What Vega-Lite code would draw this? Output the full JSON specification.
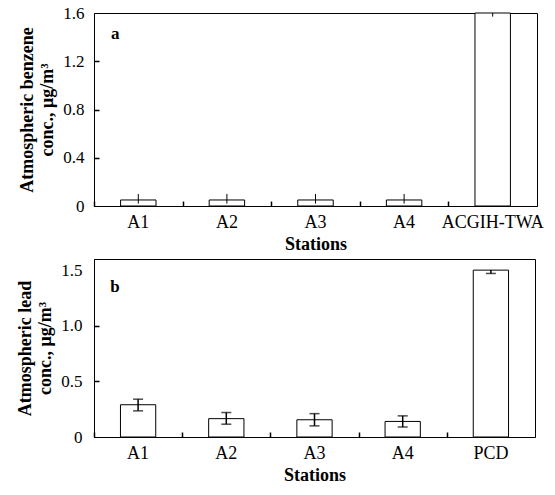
{
  "$schema": "https://vega.github.io/schema/vega-lite/v6.json",
  "background": "white",
  "padding": {"left": 16, "top": 3, "right": 2, "bottom": 2},
  "spacing": 4,
  "config": {
    "font": "Times New Roman",
    "view": {"stroke": "black", "strokeWidth": 1},
    "text": {"font": "Times New Roman"},
    "axis": {
      "domainColor": "black", "tickColor": "black", "labelColor": "black", "titleColor": "black",
      "labelFont": "Times New Roman", "titleFont": "Times New Roman",
      "labelFontSize": 17, "titleFontSize": 18, "grid": false, "titleFontWeight": "bold"
    }
  },
  "vconcat": [
    {
      "width": 443, "height": 193,
      "data": {"values": [
        {"Station": "A1", "value": 0.05, "lo": 0.02, "hi": 0.10},
        {"Station": "A2", "value": 0.05, "lo": 0.02, "hi": 0.10},
        {"Station": "A3", "value": 0.05, "lo": 0.02, "hi": 0.10},
        {"Station": "A4", "value": 0.05, "lo": 0.02, "hi": 0.10},
        {"Station": "ACGIH-TWA", "value": 1.6, "lo": 1.57, "hi": 1.6}
      ]},
      "resolve": {"axis": {"x": "independent", "y": "independent"}},
      "layer": [
        {"mark": {"type": "bar", "fill": "white", "stroke": "black", "strokeWidth": 1},
          "encoding": {
            "x": {"field": "Station", "type": "nominal", "sort": null,
              "scale": {"paddingInner": 0.6, "paddingOuter": 0.3},
              "axis": {"title": "Stations", "labelAngle": 0, "ticks": false, "labelFontSize": 18,
                "labelPadding": 7, "titlePadding": 4}},
            "y": {"field": "value", "type": "quantitative", "scale": {"domain": [0, 1.6]},
              "axis": {"title": ["Atmospheric benzene", "conc., μg/m³"], "values": [0, 0.4, 0.8, 1.2, 1.6],
                "labelExpr": "datum.value == 0 ? '0' : format(datum.value, '.1f')",
                "ticks": false, "labelPadding": 10, "titlePadding": 6, "titleLineHeight": 20}}}},
        {"mark": {"type": "rule", "color": "black", "strokeWidth": 1},
          "encoding": {
            "x": {"field": "Station", "type": "nominal", "sort": null,
              "axis": {"orient": "bottom", "title": null, "labels": false, "domain": false, "bandPosition": 0, "tickOffset": -26.58, "tickSize": 5, "tickWidth": 1.5, "offset": -5}},
            "y": {"field": "lo", "type": "quantitative",
              "axis": {"orient": "left", "title": null, "labels": false, "domain": false, "tickSize": 5, "tickWidth": 1.5, "offset": -5, "values": [0.4, 0.8, 1.2]}},
            "y2": {"field": "hi"}}},
        {"data": {"values": [{"Station": "A1", "label": "a", "ly": 1.43}]},
          "mark": {"type": "text", "dx": -23, "fontSize": 17, "fontWeight": "bold", "color": "black"},
          "encoding": {
            "x": {"field": "Station", "type": "nominal", "sort": null, "axis": null},
            "y": {"field": "ly", "type": "quantitative", "axis": null},
            "text": {"field": "label"}}}
      ]
    },
    {
      "width": 441, "height": 178,
      "data": {"values": [
        {"Station": "A1", "value": 0.29, "lo": 0.235, "hi": 0.34},
        {"Station": "A2", "value": 0.165, "lo": 0.115, "hi": 0.22},
        {"Station": "A3", "value": 0.155, "lo": 0.10, "hi": 0.21},
        {"Station": "A4", "value": 0.14, "lo": 0.09, "hi": 0.19},
        {"Station": "PCD", "value": 1.5, "lo": 1.47, "hi": 1.5}
      ]},
      "resolve": {"axis": {"x": "independent", "y": "independent"}},
      "layer": [
        {"mark": {"type": "bar", "fill": "white", "stroke": "black", "strokeWidth": 1},
          "encoding": {
            "x": {"field": "Station", "type": "nominal", "sort": null,
              "scale": {"paddingInner": 0.6, "paddingOuter": 0.3},
              "axis": {"title": "Stations", "labelAngle": 0, "ticks": false, "labelFontSize": 18,
                "labelPadding": 7, "titlePadding": 4}},
            "y": {"field": "value", "type": "quantitative", "scale": {"domain": [0, 1.5]},
              "axis": {"title": ["Atmospheric lead", "conc., μg/m³"], "values": [0, 0.5, 1.0, 1.5],
                "labelExpr": "datum.value == 0 ? '0' : format(datum.value, '.1f')",
                "ticks": false, "labelPadding": 12, "titlePadding": 6, "titleLineHeight": 20}}}},
        {"mark": {"type": "rule", "color": "black", "strokeWidth": 1.5},
          "encoding": {
            "x": {"field": "Station", "type": "nominal", "sort": null,
              "axis": {"orient": "bottom", "title": null, "labels": false, "domain": false, "bandPosition": 0, "tickOffset": -26.46, "tickSize": 5, "tickWidth": 1.5, "offset": -5}},
            "y": {"field": "lo", "type": "quantitative",
              "axis": {"orient": "left", "title": null, "labels": false, "domain": false, "tickSize": 5, "tickWidth": 1.5, "offset": -5, "values": [0.5, 1.0]}},
            "y2": {"field": "hi"}}},
        {"mark": {"type": "tick", "color": "black", "size": 10, "thickness": 1.5},
          "encoding": {
            "x": {"field": "Station", "type": "nominal", "sort": null, "axis": null},
            "y": {"field": "lo", "type": "quantitative", "axis": null}}},
        {"mark": {"type": "tick", "color": "black", "size": 10, "thickness": 1.5},
          "transform": [{"filter": "datum.Station != 'PCD'"}],
          "encoding": {
            "x": {"field": "Station", "type": "nominal", "sort": null, "axis": null},
            "y": {"field": "hi", "type": "quantitative", "axis": null}}},
        {"data": {"values": [{"Station": "A1", "label": "b", "ly": 1.35}]},
          "mark": {"type": "text", "dx": -23, "fontSize": 17, "fontWeight": "bold", "color": "black"},
          "encoding": {
            "x": {"field": "Station", "type": "nominal", "sort": null, "axis": null},
            "y": {"field": "ly", "type": "quantitative", "axis": null},
            "text": {"field": "label"}}}
      ]
    }
  ]
}
